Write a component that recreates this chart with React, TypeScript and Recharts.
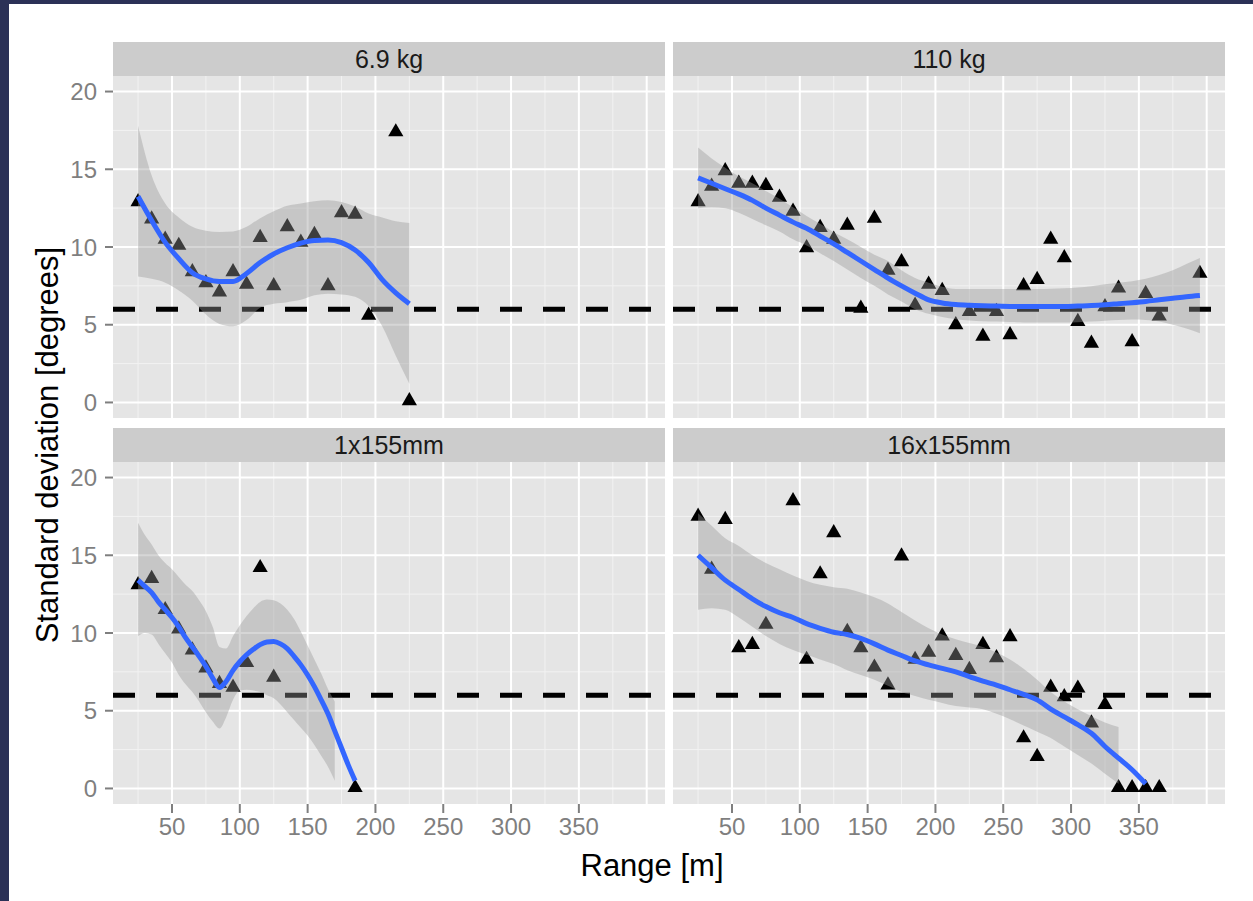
import React from "react";
import {
  ComposedChart,
  Scatter,
  Area,
  Line,
  XAxis,
  YAxis,
  CartesianGrid,
  ReferenceLine,
} from "recharts";

// facet titles
const panelNames = ["6.9 kg", "110 kg", "1x155mm", "16x155mm"];

// axis breaks
const xTicks = [50, 100, 150, 200, 250, 300, 350];
const xMajor = [50, 100, 150, 200, 250, 300, 350, 400];
const xMinor = [25, 75, 125, 175, 225, 275, 325, 375];
const yTicks = [0, 5, 10, 15, 20];
const yMinor = [2.5, 7.5, 12.5, 17.5];
const limit = 6;

// 6.9 kg
const kg69PtX = [25, 35, 45, 55, 65, 75, 85, 95, 105, 115, 125, 135, 145, 155, 165, 175, 185, 195, 215, 225];
const kg69PtY = [12.9, 11.8, 10.5, 10.1, 8.4, 7.7, 7.1, 8.4, 7.6, 10.6, 7.5, 11.3, 10.3, 10.8, 7.5, 12.2, 12.1, 5.6, 17.4, 0.1];
const kg69FitX = [25, 35, 45, 55, 65, 75, 85, 95, 105, 115, 125, 135, 145, 155, 165, 175, 185, 195, 205, 215, 225];
const kg69Fit = [13.25, 11.7, 10.3, 9.25, 8.35, 7.95, 7.78, 7.78, 8.3, 9.0, 9.55, 9.95, 10.25, 10.42, 10.45, 10.28, 9.8, 9.0, 7.9, 7.05, 6.35];
const kg69Lo = [8.1, 7.95, 7.7, 7.2, 6.55, 5.65, 5.05, 4.9, 5.3, 6.1, 6.35, 6.45, 6.6, 6.9, 7.0, 6.95, 6.8, 6.2, 4.9, 3.0, 1.2];
const kg69Hi = [17.8, 14.6, 12.8, 11.9, 11.3, 11.05, 10.97, 11.0, 11.3, 11.85, 12.3, 12.65, 12.8, 12.95, 13.0, 12.9, 12.6, 12.15, 11.9, 11.65, 11.55];

// 110 kg
const kg110PtX = [25, 35, 45, 55, 65, 75, 85, 95, 105, 115, 125, 135, 145, 155, 165, 175, 185, 195, 205, 215, 225, 235, 245, 255, 265, 275, 285, 295, 305, 315, 325, 335, 345, 355, 365, 395];
const kg110PtY = [12.9, 13.9, 14.9, 14.1, 14.1, 13.95, 13.2, 12.3, 9.95, 11.25, 10.5, 11.4, 6.05, 11.85, 8.5, 9.05, 6.25, 7.6, 7.2, 5.0, 5.85, 4.25, 5.85, 4.35, 7.5, 7.9, 10.5, 9.3, 5.2, 3.8, 6.15, 7.35, 3.9, 7.0, 5.55, 8.3];
const kg110FitX = [25, 35, 45, 55, 65, 75, 85, 95, 105, 115, 125, 135, 145, 155, 165, 175, 185, 195, 205, 215, 225, 235, 245, 255, 265, 275, 285, 295, 305, 315, 325, 335, 345, 355, 365, 375, 385, 395];
const kg110Fit = [14.45, 14.1, 13.75, 13.4, 13.0, 12.5, 12.05, 11.6, 11.2, 10.7, 10.2, 9.65, 9.1, 8.55, 8.0, 7.5, 7.03, 6.6, 6.4, 6.3, 6.25, 6.22, 6.2, 6.18, 6.17, 6.17, 6.17, 6.17, 6.2, 6.23, 6.28, 6.35, 6.42, 6.5, 6.6, 6.7, 6.8, 6.88];
const kg110Lo = [12.5, 12.55, 12.5, 12.2, 11.8, 11.4, 11.0, 10.5, 10.1, 9.6, 9.1, 8.55, 8.0, 7.5, 6.95, 6.5, 6.0, 5.7, 5.5, 5.35, 5.28, 5.22, 5.2, 5.17, 5.15, 5.14, 5.14, 5.14, 5.16, 5.2, 5.25, 5.3, 5.33, 5.3, 5.2, 5.0, 4.75, 4.45];
const kg110Hi = [16.4, 15.7, 15.1, 14.55, 14.1, 13.6, 13.1, 12.55, 12.0, 11.5, 10.95, 10.5, 10.0, 9.5, 9.1, 8.5, 8.0, 7.7, 7.45, 7.3, 7.3, 7.3, 7.3, 7.3, 7.3, 7.3, 7.32, 7.35, 7.4, 7.48, 7.6, 7.7, 7.8, 7.95, 8.2, 8.5, 8.9, 9.3];

// 1x155mm
const mm1PtX = [25, 35, 45, 55, 65, 75, 85, 95, 105, 115, 125, 185];
const mm1PtY = [13.1, 13.5, 11.5, 10.25, 8.9, 7.75, 6.75, 6.5, 8.1, 14.2, 7.15, 0.05];
const mm1FitX = [25, 30, 35, 40, 45, 50, 55, 60, 65, 70, 75, 80, 85, 90, 95, 100, 105, 110, 115, 120, 125, 130, 135, 140, 145, 150, 155, 160, 165, 170, 175, 180, 185];
const mm1Fit = [13.4, 13.0, 12.6, 12.0, 11.5, 11.0, 10.4, 9.7, 9.1, 8.5, 7.85, 7.1, 6.5, 6.9, 7.6, 8.15, 8.6, 8.95, 9.25, 9.42, 9.45, 9.3, 9.0, 8.5, 7.95, 7.3, 6.55, 5.7, 4.8, 3.7, 2.6, 1.5, 0.5];
const mm1BandX = [25, 30, 35, 40, 45, 50, 55, 60, 65, 70, 75, 80, 85, 90, 95, 100, 105, 110, 115, 120, 125, 130, 135, 140, 145, 150, 155, 160, 165, 170];
const mm1Lo = [9.8, 10.0, 9.9, 9.3, 8.7, 8.1, 7.3, 6.7, 6.2, 5.6, 4.9, 4.3, 3.85, 4.6, 5.7, 6.3, 6.35, 6.3, 6.2, 6.0, 5.8, 5.4, 4.9, 4.4, 3.9, 3.4, 2.8, 2.1, 1.4, 0.5];
const mm1Hi = [17.1, 16.3, 15.7, 15.0, 14.5, 14.1, 13.6, 13.1, 12.7, 12.1, 11.4, 10.4, 9.1, 9.0, 9.8, 10.5, 11.1, 11.6, 12.0, 12.15, 12.1, 11.9, 11.5, 10.9, 10.1, 9.2, 8.3, 7.4, 6.4, 5.6];

// 16x155mm
const mm16PtX = [25, 35, 45, 55, 65, 75, 95, 105, 115, 125, 135, 145, 155, 165, 175, 185, 195, 205, 215, 225, 235, 245, 255, 265, 275, 285, 295, 305, 315, 325, 335, 345, 355, 365];
const mm16PtY = [17.5, 14.1, 17.3, 9.05, 9.25, 10.55, 18.5, 8.3, 13.8, 16.45, 10.1, 9.05, 7.8, 6.65, 14.95, 8.3, 8.75, 9.8, 8.55, 7.65, 9.25, 8.4, 9.75, 3.25, 2.05, 6.5, 5.9, 6.45, 4.2, 5.4, 0.05, 0.05, 0.05, 0.05];
const mm16FitX = [25, 35, 45, 55, 65, 75, 85, 95, 105, 115, 125, 135, 145, 155, 165, 175, 185, 195, 205, 215, 225, 235, 245, 255, 265, 275, 285, 295, 305, 315, 325, 335, 345, 355];
const mm16Fit = [15.0, 14.2, 13.4, 12.8, 12.2, 11.7, 11.3, 11.0, 10.6, 10.3, 10.05, 9.9, 9.65, 9.3, 8.9, 8.55, 8.2, 7.95, 7.72, 7.5, 7.2, 6.9, 6.65, 6.35, 6.05, 5.7, 5.1, 4.6, 4.1, 3.55, 2.7, 1.95, 1.2, 0.3];
const mm16BandX = [25, 35, 45, 55, 65, 75, 85, 95, 105, 115, 125, 135, 145, 155, 165, 175, 185, 195, 205, 215, 225, 235, 245, 255, 265, 275, 285, 295, 305, 315, 325, 335];
const mm16Lo = [11.5, 11.6, 11.5, 11.0, 10.4, 9.8, 9.3, 8.9, 8.6, 8.3, 8.0, 7.6, 7.3, 7.0, 6.6, 6.2, 5.95, 5.7, 5.5, 5.3, 5.2, 5.1, 4.8, 4.45, 4.05, 3.65, 3.25, 2.7, 2.15, 1.6, 0.95, 0.3];
const mm16Hi = [17.7, 16.9, 16.1, 15.6, 15.0, 14.5, 14.1, 13.7, 13.35, 13.1, 12.95, 12.85, 12.6, 12.3, 11.9, 11.35, 10.8, 10.3, 9.9, 9.6, 9.35, 9.1, 8.75, 8.3, 7.7, 7.0, 6.2, 5.6, 5.1, 4.65, 4.25, 3.95];

const pts = (xs: number[], ys: number[]) => xs.map((x, i) => ({ x, y: ys[i] }));
const band = (xs: number[], lo: number[], hi: number[]) =>
  xs.map((x, i) => ({ x, band: [lo[i], hi[i]] }));

const FONT = '"Liberation Sans", Arial, Helvetica, sans-serif';
const PLOT_W = 552;
const PLOT_H = 342;
const Y_AXIS_W = 100;
const X_AXIS_H = 62;

function Triangle(props: any) {
  const { cx, cy } = props;
  if (cx == null || cy == null) return null;
  const r = 8.8;
  return (
    <polygon
      points={`${cx},${cy - r} ${cx - r * 0.866},${cy + r / 2} ${cx + r * 0.866},${cy + r / 2}`}
      fill="#000"
    />
  );
}

type PanelProps = {
  name: string;
  points: { x: number; y: number }[];
  fit: { x: number; y: number }[];
  ribbon: { x: number; band: number[] }[];
  left: number;
  top: number;
  showX: boolean;
  showY: boolean;
};

function Panel({ name, points, fit, ribbon, left, top, showX, showY }: PanelProps) {
  const w = PLOT_W + (showY ? Y_AXIS_W : 0);
  const h = PLOT_H + (showX ? X_AXIS_H : 0);
  return (
    <>
      <div
        style={{
          position: "absolute",
          left,
          top: top - 34,
          width: PLOT_W,
          height: 34,
          background: "#cccccc",
          color: "#1a1a1a",
          fontSize: 25,
          lineHeight: "34px",
          textAlign: "center",
        }}
      >
        {name}
      </div>
      <div style={{ position: "absolute", left: showY ? left - Y_AXIS_W : left, top }}>
        <ComposedChart width={w} height={h} margin={{ top: 0, right: 0, bottom: 0, left: 0 }}>
          <CartesianGrid
            fill="#e5e5e5"
            stroke="#f2f2f2"
            strokeWidth={1}
            horizontalValues={yMinor}
            verticalValues={xMinor}
          />
          <CartesianGrid
            stroke="#ffffff"
            strokeWidth={2}
            horizontalValues={yTicks}
            verticalValues={xMajor}
          />
          <XAxis
            type="number"
            dataKey="x"
            domain={[6.5, 413.5]}
            ticks={xTicks}
            allowDataOverflow
            hide={!showX}
            height={X_AXIS_H}
            axisLine={false}
            tickSize={9}
            tickMargin={5}
            tickLine={{ stroke: "#7f7f7f", strokeWidth: 2 }}
            tick={{ fill: "#7f7f7f", fontSize: 24 }}
          />
          <YAxis
            type="number"
            domain={[-1, 21]}
            ticks={yTicks}
            allowDataOverflow
            hide={!showY}
            width={Y_AXIS_W}
            axisLine={false}
            tickSize={8}
            tickMargin={8}
            tickLine={{ stroke: "#7f7f7f", strokeWidth: 2 }}
            tick={{ fill: "#7f7f7f", fontSize: 24 }}
          />
          <ReferenceLine
            y={limit}
            stroke="#000"
            strokeWidth={5}
            strokeDasharray="22 21"
            zIndex={10}
          />
          <Scatter
            data={points}
            dataKey="y"
            shape={<Triangle />}
            isAnimationActive={false}
            zIndex={20}
          />
          <Area
            data={ribbon}
            dataKey="band"
            fill="#999999"
            fillOpacity={0.4}
            stroke="none"
            type="monotone"
            isAnimationActive={false}
            zIndex={30}
          />
          <Line
            data={fit}
            dataKey="y"
            stroke="#3366ff"
            strokeWidth={5}
            dot={false}
            type="monotone"
            isAnimationActive={false}
            zIndex={40}
          />
        </ComposedChart>
      </div>
    </>
  );
}

export default function App() {
  return (
    <div
      style={{
        position: "absolute",
        left: 0,
        top: 0,
        width: 1253,
        height: 901,
        background: "#2b3157",
        fontFamily: FONT,
      }}
    >
      <div style={{ position: "absolute", left: 9, top: 4, right: 0, bottom: 0, background: "#ffffff" }}>
        <div style={{ position: "absolute", left: -9, top: -4 }}>
          <Panel
            name={panelNames[0]}
            points={pts(kg69PtX, kg69PtY)}
            fit={pts(kg69FitX, kg69Fit)}
            ribbon={band(kg69FitX, kg69Lo, kg69Hi)}
            left={113}
            top={76}
            showX={false}
            showY={true}
          />
          <Panel
            name={panelNames[1]}
            points={pts(kg110PtX, kg110PtY)}
            fit={pts(kg110FitX, kg110Fit)}
            ribbon={band(kg110FitX, kg110Lo, kg110Hi)}
            left={673}
            top={76}
            showX={false}
            showY={false}
          />
          <Panel
            name={panelNames[2]}
            points={pts(mm1PtX, mm1PtY)}
            fit={pts(mm1FitX, mm1Fit)}
            ribbon={band(mm1BandX, mm1Lo, mm1Hi)}
            left={113}
            top={462}
            showX={true}
            showY={true}
          />
          <Panel
            name={panelNames[3]}
            points={pts(mm16PtX, mm16PtY)}
            fit={pts(mm16FitX, mm16Fit)}
            ribbon={band(mm16BandX, mm16Lo, mm16Hi)}
            left={673}
            top={462}
            showX={true}
            showY={false}
          />
          <div
            style={{
              position: "absolute",
              left: 48,
              top: 445,
              transform: "translate(-50%, -50%) rotate(-90deg)",
              whiteSpace: "nowrap",
              fontSize: 31,
              color: "#000",
            }}
          >
            Standard deviation [degrees]
          </div>
          <div
            style={{
              position: "absolute",
              left: 652,
              top: 866,
              transform: "translate(-50%, -50%)",
              whiteSpace: "nowrap",
              fontSize: 31,
              color: "#000",
            }}
          >
            Range [m]
          </div>
        </div>
      </div>
    </div>
  );
}
